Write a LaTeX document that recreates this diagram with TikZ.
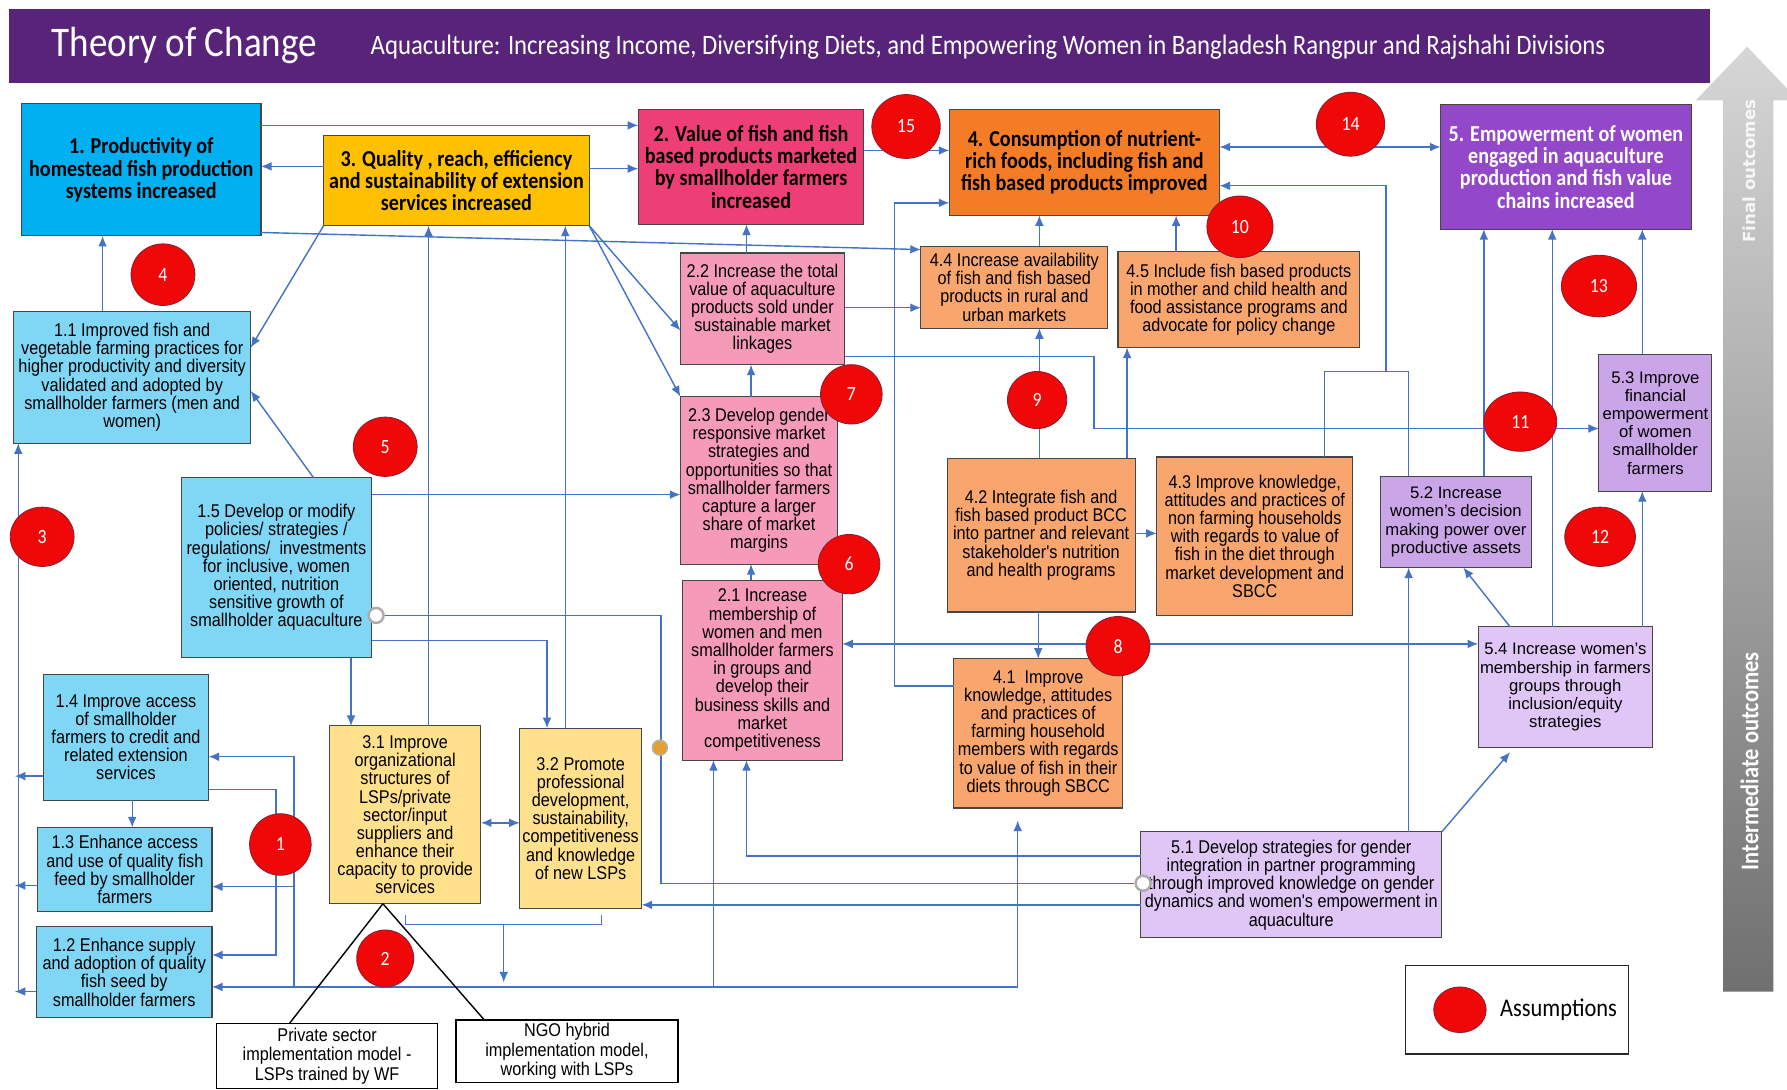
\documentclass[tikz,border=0pt]{standalone}
\usepackage{fontspec}
\setmainfont{Liberation Sans}
\newfontfamily\calfont[FakeStretch=0.88]{Carlito}
\newfontfamily\narrowfont[FakeStretch=0.88]{Liberation Sans}
\newfontfamily\dvfont{DejaVu Sans}
\usetikzlibrary{arrows.meta,shapes.geometric}
\definecolor{hdr}{RGB}{88,36,122}
\definecolor{lineblue}{RGB}{68,114,196}
\definecolor{cBa}{RGB}{0,176,240}
\definecolor{cBc}{RGB}{255,192,0}
\definecolor{cBb}{RGB}{238,62,118}
\definecolor{cBd}{RGB}{245,124,38}
\definecolor{cBe}{RGB}{146,72,200}
\definecolor{cLa}{RGB}{128,214,245}
\definecolor{cLc}{RGB}{255,224,140}
\definecolor{cLb}{RGB}{246,154,186}
\definecolor{cLd}{RGB}{248,166,110}
\definecolor{cLe}{RGB}{202,165,232}
\definecolor{cLf}{RGB}{224,198,246}
\definecolor{asmred}{RGB}{240,8,8}
\definecolor{asmedge}{RGB}{140,30,50}
\definecolor{arrtop}{RGB}{214,214,214}
\definecolor{arrbot}{RGB}{112,112,112}
\definecolor{boxline}{RGB}{70,70,70}
\definecolor{dotor}{RGB}{230,160,50}
\newcommand\bx[7]{\node[#6, minimum width={(#4-#2)*0.0228cm}, minimum height={(#5-#3)*0.0228cm}] (#1) at ({(#2+#4)/2},{(#3+#5)/2}) {#7};}
\newcommand\asn[6]{\node[asm, minimum width={#4*0.0228cm}, minimum height={#5*0.0228cm}] (#1) at (#2,#3) {#6};}
\begin{document}
\begin{tikzpicture}[x=0.0228cm,y=-0.0228cm,
  conn/.style={draw=lineblue, line width=0.8pt},
  arr/.style={conn, -{Latex[length=6pt,width=5pt]}},
  darr/.style={conn, {Latex[length=6pt,width=5pt]}-{Latex[length=6pt,width=5pt]}},
  bb/.style={draw=boxline, line width=0.6pt, inner sep=0pt, outer sep=0pt, align=center},
  mainbox/.style={bb, font=\calfont\bfseries\fontsize{13}{12.6}\selectfont},
  nbox/.style={bb, font=\narrowfont\fontsize{10.5}{10.35}\selectfont},
  wbox/.style={bb, font=\fontsize{9.5}{10.35}\selectfont},
  whitebox/.style={bb, draw=black, line width=0.8pt, fill=white, font=\narrowfont\fontsize{10.5}{11}\selectfont},
  asm/.style={ellipse, fill=asmred, draw=asmedge, line width=0.5pt, text=white, inner sep=0pt, font=\calfont\fontsize{11.5}{12}\selectfont},
  ring/.style={circle, draw=gray!65, line width=1.4pt, fill=white, minimum size=0.3cm, inner sep=0pt},
  odot/.style={circle, draw=gray!60, line width=0.8pt, fill=dotor, minimum size=0.3cm, inner sep=0pt},
  tri/.style={draw=black, line width=0.8pt}
]
\useasboundingbox (0,0) rectangle (1568,956);
\fill[white] (0,0) rectangle (1568,956);
\clip (0,0) rectangle (1568,956);

% header
\fill[hdr] (8,8) rectangle (1500,73);
\node[anchor=west, inner sep=0pt, text=white, font=\calfont\fontsize{24}{26}\selectfont] (ttl) at (45,40) {Theory of Change};
\node[anchor=west, inner sep=0pt, text=white, font=\calfont\fontsize{16}{18}\selectfont] (sub) at (325,41) {Aquaculture: Increasing Income, Diversifying Diets, and Empowering Women in Bangladesh Rangpur and Rajshahi Divisions};

% side arrow
\shade[top color=arrtop, bottom color=arrbot] (1512,870) -- (1512,88) -- (1488,88) -- (1533,41) -- (1578,88) -- (1556,88) -- (1556,870) -- cycle;
\node[rotate=90, text=white, opacity=0.85, font=\dvfont\bfseries\fontsize{9.5}{10}\selectfont] (fo) at (1535,150) {Final outcomes};
\node[rotate=90, text=white, font=\calfont\bfseries\fontsize{14.5}{15}\selectfont] (io) at (1535,668) {Intermediate outcomes};

% main outcome boxes
\bx{B1}{19}{91}{229}{207}{mainbox,fill=cBa}{1. Productivity of\\homestead fish production\\systems increased}
\bx{B3}{284}{119}{517}{198}{mainbox,fill=cBc}{3. Quality , reach, efficiency\\and sustainability of extension\\services increased}
\bx{B2}{560}{96}{758}{197}{mainbox,fill=cBb}{2. Value of fish and fish\\based products marketed\\by smallholder farmers\\increased}
\bx{B4}{833}{96}{1070}{189}{mainbox,fill=cBd}{4. Consumption of nutrient-\\rich foods, including fish and\\fish based products improved}
\bx{B5}{1264}{92}{1484}{201}{mainbox,fill=cBe,text=white}{5. Empowerment of women\\engaged in aquaculture\\production and fish value\\chains increased}

% intermediate boxes
\bx{B11}{12}{273}{220}{389}{nbox,fill=cLa}{1.1 Improved fish and\\vegetable farming practices for\\higher productivity and diversity\\validated and adopted by\\smallholder farmers (men and\\women)}
\bx{B15}{159}{419}{326}{577}{nbox,fill=cLa}{1.5 Develop or modify\\policies/ strategies /\\regulations/\ \ investments\\for inclusive, women\\oriented, nutrition\\sensitive growth of\\smallholder aquaculture}
\bx{B14}{38}{592}{183}{702}{nbox,fill=cLa}{1.4 Improve access\\of smallholder\\farmers to credit and\\related extension\\services}
\bx{B13}{33}{726}{186}{800}{nbox,fill=cLa}{1.3 Enhance access\\and use of quality fish\\feed by smallholder\\farmers}
\bx{B12}{32}{813}{186}{893}{nbox,fill=cLa}{1.2 Enhance supply\\and adoption of quality\\fish seed by\\smallholder farmers}
\bx{B31}{289}{637}{422}{793}{nbox,fill=cLc}{3.1 Improve\\organizational\\structures of\\LSPs/private\\sector/input\\suppliers and\\enhance their\\capacity to provide\\services}
\bx{B32}{456}{639}{563}{797}{nbox,fill=cLc}{3.2 Promote\\professional\\development,\\sustainability,\\competitiveness\\and knowledge\\of new LSPs}
\bx{PR}{190}{898}{384}{955}{whitebox}{Private sector\\implementation model -\\LSPs trained by WF}
\bx{NG}{400}{895}{595}{950}{whitebox}{NGO hybrid\\implementation model,\\working with LSPs}
\bx{B22}{597}{222}{741}{320}{nbox,fill=cLb}{2.2 Increase the total\\value of aquaculture\\products sold under\\sustainable market\\linkages}
\bx{B23}{597}{348}{735}{495}{nbox,fill=cLb}{2.3 Develop gender\\responsive market\\strategies and\\opportunities so that\\smallholder farmers\\capture a larger\\share of market\\margins}
\bx{B21}{599}{509}{739}{667}{nbox,fill=cLb}{2.1 Increase\\membership of\\women and men\\smallholder farmers\\in groups and\\develop their\\business skills and\\market\\competitiveness}
\bx{B44}{808}{216}{972}{288}{nbox,fill=cLd}{4.4 Increase availability\\of fish and fish based\\products in rural and\\urban markets}
\bx{B45}{981}{221}{1193}{305}{nbox,fill=cLd}{4.5 Include fish based products\\in mother and child health and\\food assistance programs and\\advocate for policy change}
\bx{B42}{831}{402}{996}{537}{nbox,fill=cLd}{4.2 Integrate fish and\\fish based product BCC\\into partner and relevant\\stakeholder's nutrition\\and health programs}
\bx{B43}{1015}{401}{1187}{540}{nbox,fill=cLd}{4.3 Improve knowledge,\\attitudes and practices of\\non farming households\\with regards to value of\\fish in the diet through\\market development and\\SBCC}
\bx{B41}{837}{578}{985}{709}{nbox,fill=cLd}{4.1\ \ Improve\\knowledge, attitudes\\and practices of\\farming household\\members with regards\\to value of fish in their\\diets through SBCC}
\bx{B52}{1211}{418}{1344}{498}{wbox,fill=cLe}{5.2 Increase\\women's decision\\making power over\\productive assets}
\bx{B53}{1403}{311}{1502}{431}{wbox,fill=cLe}{5.3 Improve\\financial\\empowerment\\of women\\smallholder\\farmers}
\bx{B54}{1297}{550}{1450}{656}{wbox,fill=cLf}{5.4 Increase women's\\membership in farmers\\groups through\\inclusion/equity\\strategies}
\bx{B51}{1001}{730}{1265}{823}{nbox,fill=cLf}{5.1 Develop strategies for gender\\integration in partner programming\\through improved knowledge on gender\\dynamics and women's empowerment in\\aquaculture}

% legend
\bx{LG}{1233}{847}{1429}{925}{bb,draw=black!85,line width=0.8pt,fill=white}{}
\node[anchor=west, inner sep=0pt, font=\calfont\fontsize{14.5}{15}\selectfont] (LGt) at (1316,886) {Assumptions};

% connectors: top level
\draw[arr] (B1.east |- 0,110) -- (B2.west |- 0,110);
\draw[arr] (B3.west |- 0,146) -- (B1.east |- 0,146);
\draw[arr] (B3.east |- 0,148) -- (B2.west |- 0,148);
\draw[arr] (B2.east |- 0,132) -- (B4.west |- 0,132);
\draw[darr] (B4.east |- 0,129) -- (B5.west |- 0,129);
\draw[arr] (B1.east |- 0,204) -- (B44.west |- 0,219);
\draw[arr] (B3.south west) -- (B11.east |- 0,305);
\draw[arr] (B3.south east) -- (B22.west |- 0,290);
\draw[arr] (B3.south east) -- (B23.north west);
\draw[arr] (90,0 |- B11.north) -- (90,0 |- B1.south);

% pink column
\draw[arr] (655,0 |- B22.north) -- (655,0 |- B2.south);
\draw[arr] (659,0 |- B23.north) -- (659,0 |- B22.south);
\draw[arr] (659,0 |- B21.north) -- (659,0 |- B23.south);
\draw[arr] (B22.east |- 0,270) -- (B44.west |- 0,270);
\draw[arr] (B22.east |- 0,313) -- (960,313) -- (960,376) -- (B53.west |- 0,376);

% orange column
\draw[arr] (912,0 |- B44.north) -- (912,0 |- B4.south);
\draw[arr] (1032,0 |- B45.north) -- (1032,0 |- B4.south);
\draw[arr] (912,0 |- B42.north) -- (912,0 |- B44.south);
\draw[arr] (989,0 |- B42.north) -- (989,0 |- B45.south);
\draw[arr] (B42.east |- 0,468) -- (B43.west |- 0,468);
\draw[arr] (911,0 |- B42.south) -- (911,0 |- B41.north);
\draw[arr] (B41.west |- 0,602) -- (785,602) -- (785,178) -- (B4.west |- 0,178);
\draw[conn] (1162,0 |- B43.north) -- (1162,326) -- (1236,326) -- (1236,0 |- B52.north);
\draw[arr] (1216,326) -- (1216,163) -- (B4.east |- 0,163);

% purple column
\draw[arr] (1302,0 |- B52.north) -- (1302,0 |- B5.south);
\draw[arr] (1362,0 |- B54.north) -- (1362,0 |- B5.south);
\draw[arr] (1441,0 |- B53.north) -- (1441,0 |- B5.south);
\draw[arr] (1441,0 |- B54.north) -- (1441,0 |- B53.south);
\draw[arr] (1325,0 |- B54.north) -- (1284,0 |- B52.south);
\draw[arr] (1236,0 |- B51.north) -- (1236,0 |- B52.south);
\draw[arr] (B51.north east) -- (1325,660);
\draw[darr] (B21.east |- 0,565) -- (B54.west |- 0,565);

% left / blue boxes
\draw[arr] (275,0 |- B15.north) -- (B11.east |- 0,343);
\draw[arr] (B15.east |- 0,434) -- (B23.west |- 0,434);
\draw[arr] (B15.east |- 0,562) -- (480,562) -- (480,0 |- B32.north);
\draw[arr] (308,0 |- B15.south) -- (308,0 |- B31.north);
\draw[arr] (376,0 |- B31.north) -- (376,0 |- B3.south);
\draw[arr] (496,0 |- B32.north) -- (496,0 |- B3.south);
\draw[darr] (B31.east |- 0,722) -- (B32.west |- 0,722);
\draw[conn] (356,803) -- (356,811) -- (528,811) -- (528,803);
\draw[arr] (442,811) -- (442,862);
\coordinate (b41in) at (893,720);
\draw[arr] (893,866) -- (B12.east |- 0,866);
\draw[arr] (626,866) -- (626,0 |- B21.south);
\draw[arr] (893,866) -- (b41in);
\draw[arr] (258,866) -- (258,664) -- (B14.east |- 0,664);
\draw[arr] (258,778) -- (B13.east |- 0,778);
\draw[arr] (B14.east |- 0,693) -- (242,693) -- (242,838) -- (B12.east |- 0,838);
\draw[arr] (116,0 |- B14.south) -- (116,0 |- B13.north);
\draw[arr] (B14.west |- 0,681) -- (13,681);
\draw[arr] (B13.west |- 0,777) -- (13,777);
\draw[arr] (B12.west |- 0,870) -- (13,870);
\draw[arr] (16,870) -- (16,0 |- B11.south);

% from 5.1
\draw[arr] (B51.west |- 0,794) -- (B32.east |- 0,794);
\draw[arr] (B51.west |- 0,751) -- (655,751) -- (655,0 |- B21.south);

% ring connector
\node[ring] (rA) at (330,540) {};
\node[ring] (rB) at (1003,775) {};
\draw[conn] (rA) -- (580,540) -- (580,775) -- (rB);
\node[odot] (od) at (579,656) {};

% implementation models
\draw[tri] (336,0 |- B31.south) -- (254,0 |- PR.north);
\draw[tri] (336,0 |- B31.south) -- (425,0 |- NG.north);

% assumptions
\asn{a15}{795}{111}{60}{56}{15}
\asn{a14}{1185}{109}{60}{56}{14}
\asn{a4}{143}{241}{56}{54}{4}
\asn{a10}{1088}{199}{58}{54}{10}
\asn{a13}{1403}{251}{66}{54}{13}
\asn{a7}{747}{346}{54}{52}{7}
\asn{a9}{910}{351}{52}{50}{9}
\asn{a5}{338}{392}{56}{52}{5}
\asn{a3}{37}{471}{56}{52}{3}
\asn{a11}{1334}{370}{64}{52}{11}
\asn{a12}{1404}{471}{62}{52}{12}
\asn{a6}{745}{495}{54}{52}{6}
\asn{a8}{981}{567}{56}{52}{8}
\asn{a1}{246}{741}{54}{54}{1}
\asn{a2}{338}{841}{50}{50}{2}
\asn{LGc}{1281}{886}{46}{40}{}
\end{tikzpicture}
\end{document}
